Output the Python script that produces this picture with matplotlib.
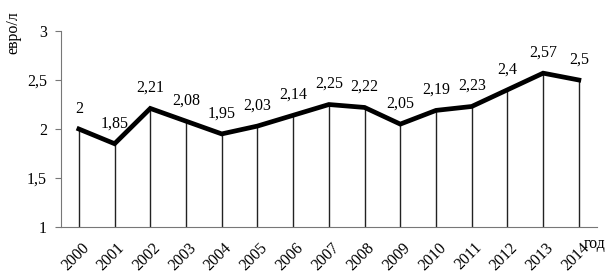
import numpy as np
import matplotlib.pyplot as plt
from matplotlib.transforms import ScaledTranslation

years = ['2000', '2001', '2002', '2003', '2004', '2005', '2006', '2007',
         '2008', '2009', '2010', '2011', '2012', '2013', '2014']
price = [2.0, 1.85, 2.21, 2.08, 1.95, 2.03, 2.14, 2.25,
         2.22, 2.05, 2.19, 2.23, 2.4, 2.57, 2.5]
yticks = [1, 1.5, 2, 2.5, 3]
ytick_labels = ['1', '1,5', '2', '2,5', '3']

plt.rcParams['font.family'] = ['Liberation Serif', 'DejaVu Serif']

fig = plt.figure(figsize=(6.12, 2.77), dpi=100)
ax = fig.add_axes([0.0997, 0.1805, 0.8753, 0.7075])

x = np.arange(len(years))
ax.vlines(x, 1, price, color='#222222', lw=1.0)
ax.plot(x, price, color='black', lw=3.4, solid_joinstyle='miter')

for xi, v in zip(x, price):
    lab = f'{v:g}'.replace('.', ',')
    ax.annotate(lab, (xi, v), xytext=(0, 9), textcoords='offset points',
                ha='center', va='bottom', fontsize=11.5)

ax.set_xlim(-0.5, 14.5)
ax.set_ylim(1, 3)
ax.set_yticks(yticks)
ax.set_yticklabels(ytick_labels, fontsize=11.5)
ax.set_xticks(x)
ax.set_xticklabels(years, rotation=45, ha='right', rotation_mode='anchor',
                   fontsize=11.5)
ax.tick_params(axis='x', length=0, pad=9)
ax.tick_params(axis='y', length=4, color='#777777', pad=6)
# nudge the rotated year labels a little to the right
shift = ScaledTranslation(1.5 / 72, 0, fig.dpi_scale_trans)
for lbl in ax.get_xticklabels():
    lbl.set_transform(lbl.get_transform() + shift)

for s in ['top', 'right']:
    ax.spines[s].set_visible(False)
ax.spines['left'].set_color('#777777')
ax.spines['bottom'].set_color('#777777')

fig.text(0.022, 0.96, 'евро/л', rotation=90, ha='center', va='top', fontsize=11.5)
fig.text(0.953, 0.118, 'год', ha='left', va='center', fontsize=11.5)

fig.savefig('out.png', dpi=100)
